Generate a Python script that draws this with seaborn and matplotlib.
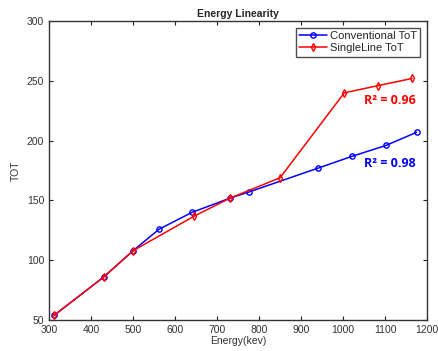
import pandas as pd
import matplotlib.pyplot as plt
import seaborn as sns

sns.set_style("ticks")
plt.rcParams['font.family'] = ['Liberation Sans', 'DejaVu Sans']

# Data
conv_energy = [312, 430, 500, 562, 640, 731, 775, 940, 1022, 1102, 1175]
conv_tot = [54, 86, 108, 126, 140, 152, 157, 177, 187, 196, 207]
single_energy = [312, 430, 500, 646, 731, 850, 1003, 1083, 1164]
single_tot = [54, 86, 108, 137, 152, 169, 240, 246, 252]

conv = pd.DataFrame({'Energy': conv_energy, 'TOT': conv_tot})
single = pd.DataFrame({'Energy': single_energy, 'TOT': single_tot})

fig = plt.figure(figsize=(4.38, 3.51), dpi=100)
ax = fig.add_axes([0.112, 0.088, 0.863, 0.852])

sns.lineplot(data=conv, x='Energy', y='TOT', ax=ax, color='#0000ff', lw=1.1,
             marker='o', markersize=3.8, markerfacecolor='none',
             markeredgecolor='#0000ff', markeredgewidth=1.0,
             label='Conventional ToT')
sns.lineplot(data=single, x='Energy', y='TOT', ax=ax, color='#ff0000', lw=1.1,
             marker='d', markersize=4.2, markerfacecolor='none',
             markeredgecolor='#ff0000', markeredgewidth=1.0,
             label='SingleLine ToT')

ax.set_xlim(300, 1200)
ax.set_ylim(50, 300)
ax.set_xticks(range(300, 1201, 100))
ax.set_yticks(range(50, 301, 50))
ax.tick_params(direction='in', top=True, right=True, labelsize=7.5,
               length=3, width=0.8, colors='#222222', labelcolor='#333333')
for s in ax.spines.values():
    s.set_linewidth(1.0)
    s.set_color('#333333')

ax.set_title('Energy Linearity', fontsize=7.5, fontweight='bold', pad=3)
ax.set_xlabel('Energy(kev)', fontsize=7.5, labelpad=1, color='#333333')
ax.set_ylabel('TOT', fontsize=7.5, labelpad=4, color='#333333')

leg = ax.legend(loc='upper right', fontsize=8, frameon=True, fancybox=False,
                borderpad=0.3, handlelength=2.5, handletextpad=0.3,
                labelspacing=0.2, borderaxespad=0.6)
leg.get_frame().set_edgecolor('#222222')
leg.get_frame().set_linewidth(1.0)

ax.text(1173, 234, 'R² = 0.96', color='#ff0000', fontsize=9,
        fontweight='bold', ha='right', va='center', family='Open Sans')
ax.text(1173, 181, 'R² = 0.98', color='#0000ff', fontsize=9,
        fontweight='bold', ha='right', va='center', family='Open Sans')

fig.savefig('out.png', dpi=100)
